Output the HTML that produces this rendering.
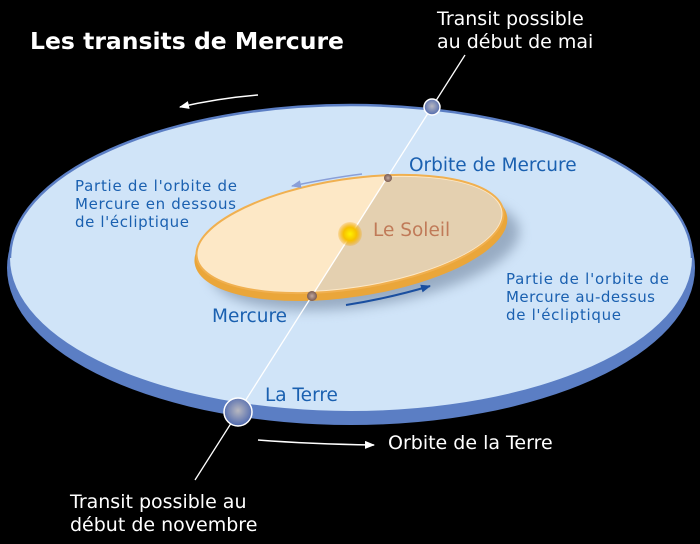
<!DOCTYPE html>
<html><head><meta charset="utf-8"><style>
html,body{margin:0;padding:0;background:#000;}
svg{display:block;font-family:"DejaVu Sans","Liberation Sans",sans-serif;}
</style></head><body>
<svg width="700" height="544" viewBox="0 0 700 544" xmlns="http://www.w3.org/2000/svg">
<defs>
<marker id="aw" markerWidth="10" markerHeight="8" refX="9" refY="4" orient="auto" markerUnits="userSpaceOnUse"><path d="M0,0 L10,4 L0,8 Z" fill="#fff"/></marker>
<marker id="ab" markerWidth="10" markerHeight="8" refX="9" refY="4" orient="auto" markerUnits="userSpaceOnUse"><path d="M0,0 L10,4 L0,8 Z" fill="#1a4fa0"/></marker>
<marker id="al" markerWidth="10" markerHeight="8" refX="9" refY="4" orient="auto" markerUnits="userSpaceOnUse"><path d="M0,0 L10,4 L0,8 Z" fill="#8a9fd8"/></marker>
<radialGradient id="sun"><stop offset="0" stop-color="#fff200"/><stop offset="0.55" stop-color="#f7c000"/><stop offset="1" stop-color="#f0a000" stop-opacity="0.2"/></radialGradient>
<radialGradient id="pl" cx="0.5" cy="0.45"><stop offset="0" stop-color="#b8b8c0"/><stop offset="1" stop-color="#5870b0"/></radialGradient>
<radialGradient id="mp"><stop offset="0" stop-color="#c0a8a0"/><stop offset="1" stop-color="#7a5a50"/></radialGradient>
<clipPath id="rhs"><path d="M500,0 L700,0 L700,544 L154,544 Z"/></clipPath>
<filter id="sh" x="-20%" y="-50%" width="140%" height="200%"><feGaussianBlur stdDeviation="6"/></filter>
</defs>
<ellipse cx="351" cy="268" rx="344" ry="157" fill="#5b7ec4"/>
<ellipse cx="351" cy="258" rx="341" ry="153" fill="#d0e4f8"/>
<path d="M10,258 A341,153 0 0 1 692,258" fill="none" stroke="#5b7ec4" stroke-width="2.5"/>
<g transform="rotate(-8.6 350 234)">
<ellipse cx="362" cy="254" rx="156" ry="54" fill="#6a7e98" opacity="0.55" filter="url(#sh)"/>
<ellipse cx="350" cy="240" rx="158" ry="57" fill="#eaa63a"/>
<ellipse cx="350" cy="234" rx="155" ry="55" fill="#fde8c6" stroke="#f0b050" stroke-width="2"/>
</g>
<g clip-path="url(#rhs)"><g transform="rotate(-8.6 350 234)"><ellipse cx="350" cy="234" rx="153" ry="53" fill="#e4d0b0"/></g></g>
<line x1="465" y1="55" x2="195" y2="480" stroke="#fff" stroke-width="1.3"/>
<circle cx="350" cy="234" r="12" fill="url(#sun)"/>
<circle cx="388" cy="178" r="4" fill="url(#mp)"/>
<circle cx="312" cy="296" r="5" fill="url(#mp)"/>
<circle cx="432" cy="107" r="8" fill="url(#pl)" stroke="#fff" stroke-width="1.5"/>
<circle cx="238" cy="412" r="14" fill="url(#pl)" stroke="#fff" stroke-width="1.5"/>
<path d="M258,95 Q220,98 180,107" fill="none" stroke="#fff" stroke-width="1.5" marker-end="url(#aw)"/>
<path d="M258,440 Q310,444 374,445" fill="none" stroke="#fff" stroke-width="1.5" marker-end="url(#aw)"/>
<path d="M362,174 Q330,178 292,186" fill="none" stroke="#8a9fd8" stroke-width="1.5" marker-end="url(#al)"/>
<path d="M346,305 Q390,298 430,286" fill="none" stroke="#1a4fa0" stroke-width="2" marker-end="url(#ab)"/>
<text x="30" y="49" font-size="23.5" font-weight="bold" fill="#fff">Les transits de Mercure</text>
<text x="437" y="25" font-size="19" fill="#fff">Transit possible</text>
<text x="437" y="48" font-size="19" fill="#fff">au début de mai</text>
<text x="409" y="171" font-size="18.5" fill="#1a60b0">Orbite de Mercure</text>
<text x="75" y="191" font-size="15" fill="#1a60b0" textLength="162">Partie de l'orbite de</text>
<text x="75" y="209" font-size="15" fill="#1a60b0" textLength="161">Mercure en dessous</text>
<text x="75" y="227" font-size="15" fill="#1a60b0" textLength="114">de l'écliptique</text>
<text x="373" y="236" font-size="18.5" fill="#c07a58">Le Soleil</text>
<text x="506" y="284" font-size="15" fill="#1a60b0" textLength="163">Partie de l'orbite de</text>
<text x="506" y="302" font-size="15" fill="#1a60b0" textLength="149">Mercure au-dessus</text>
<text x="506" y="320" font-size="15" fill="#1a60b0" textLength="115">de l'écliptique</text>
<text x="212" y="322" font-size="18.5" fill="#1a60b0">Mercure</text>
<text x="265" y="401" font-size="18.5" fill="#1a60b0">La Terre</text>
<text x="388" y="449" font-size="19" fill="#fff">Orbite de la Terre</text>
<text x="70" y="508" font-size="19" fill="#fff">Transit possible au</text>
<text x="70" y="531" font-size="19" fill="#fff">début de novembre</text>
</svg>
</body></html>
